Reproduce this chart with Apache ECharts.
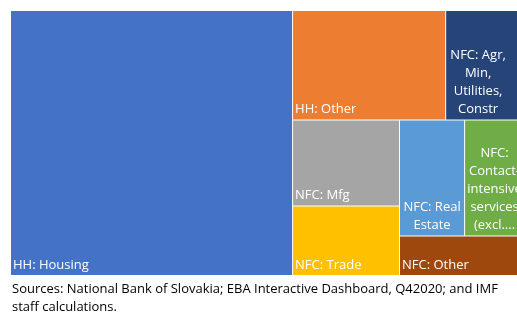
<!DOCTYPE html>
<html><head><meta charset="utf-8">
<script src="https://cdn.jsdelivr.net/npm/echarts@6/dist/echarts.min.js"></script>
<style>html,body{margin:0;padding:0;background:#fff}#c{width:517px;height:312px}</style>
</head><body><div id="c"></div>
<script>
// ---- data ----
const categories = ['HH: Housing', 'HH: Other', 'NFC: Agr, Min, Utilities, Constr', 'NFC: Mfg', 'NFC: Trade', 'NFC: Real Estate', 'NFC: Contact-intensive services (excl....', 'NFC: Other'];
const labelTexts = ['HH: Housing', 'HH: Other', 'NFC: Agr,\nMin,\nUtilities,\nConstr', 'NFC: Mfg', 'NFC: Trade', 'NFC: Real\nEstate', 'NFC:\nContact-\nintensive\nservices\n(excl....', 'NFC: Other'];
const values = [54.4, 12.2, 6.6, 6.7, 5.4, 5.5, 5.4, 3.7];
const colors = ['#4472C4', '#ED7D31', '#264478', '#A5A5A5', '#FFC000', '#5B9BD5', '#70AD47', '#9E480E'];
const sourceNote = 'Sources: National Bank of Slovakia; EBA Interactive Dashboard, Q42020; and IMF\nstaff calculations.';

// ---- label placement (style only) ----
const wrappedLabelStyle = {
  2: { position: 'insideBottom', padding: [0, 20, 1, 2] },
  5: { position: 'insideBottom', padding: [0, 2, 1, 2] },
  6: { position: 'insideBottom', padding: [0, 6, 1, 2] }
};

const data = categories.map((name, i) => {
  const item = { name: name, value: values[i], itemStyle: { color: colors[i] } };
  const lbl = Object.assign({ formatter: labelTexts[i] }, wrappedLabelStyle[i] || {});
  item.label = lbl;
  return item;
});

const chart = echarts.init(document.getElementById('c'), null, { renderer: 'canvas' });
chart.setOption({
  animation: false,
  backgroundColor: '#ffffff',
  series: [{
    type: 'treemap',
    left: 11, top: 11, width: 517, height: 264,
    sort: false,
    squareRatio: 1,
    roam: false,
    nodeClick: false,
    breadcrumb: { show: false },
    silent: true,
    itemStyle: { gapWidth: 1, borderWidth: 0, borderColor: '#ffffff' },
    label: {
      show: true,
      position: 'insideBottomLeft',
      distance: 0,
      padding: [0, 2, 1, 2],
      color: '#ffffff',
      fontFamily: 'Open Sans',
      fontSize: 13,
      lineHeight: 18,
      overflow: 'none'
    },
    emphasis: { disabled: true },
    data: data
  }],
  graphic: [{
    type: 'text',
    left: 12,
    top: 280,
    silent: true,
    style: {
      text: sourceNote,
      font: '13px "Open Sans"',
      fill: '#000000',
      lineHeight: 18
    }
  }]
});
</script>
</body></html>
